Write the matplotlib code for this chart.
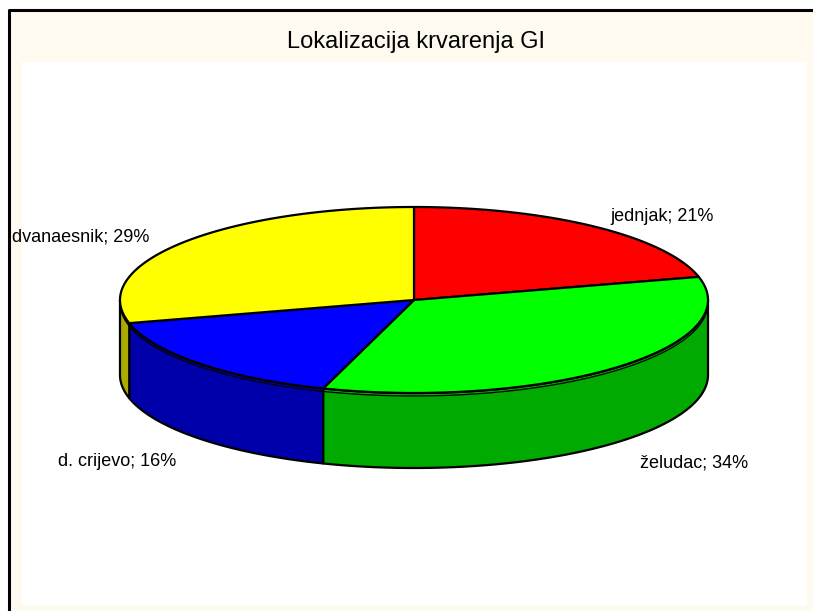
import numpy as np
import matplotlib.pyplot as plt
from matplotlib.patches import Polygon, Rectangle

plt.rcParams["font.family"] = ["Liberation Sans", "DejaVu Sans"]

# data
labels = ["jednjak", "želudac", "d. crijevo", "dvanaesnik"]
values = [21, 34, 16, 29]
top_colors = ["#ff0000", "#00ff00", "#0000ff", "#ffff00"]
side_colors = ["#aa0000", "#00aa00", "#0000aa", "#aaaa00"]

# layout (pixels)
W, H = 813, 611
cx, cy = 414, 300      # centre of the top face
a, b = 294, 93         # radii of the top ellipse
depth = 75             # thickness of the pie
label_xy = [(610, 221), (640, 467), (58, 466), (12, 241)]  # left / baseline

fig = plt.figure(figsize=(W / 100, H / 100), dpi=100)
ax = fig.add_axes([0, 0, 1, 1])
ax.set_xlim(0, W)
ax.set_ylim(H, 0)
ax.axis("off")

# chart frame
ax.add_patch(Rectangle((9, 10), W, H, facecolor="#fffaef", edgecolor="none"))
ax.plot([9, 9, W], [H, 10, 10], color="black", lw=2.2, solid_capstyle="butt")
ax.add_patch(Rectangle((22, 62), 785, 543, facecolor="white", edgecolor="none"))

ax.text(416, 48, "Lokalizacija krvarenja GI", fontsize=17, ha="center", va="baseline")


def ell(t, dy=0):
    t = np.radians(t)
    return cx + a * np.cos(t), cy - b * np.sin(t) + dy


fracs = np.array(values) / np.sum(values)
starts = 90 - 360 * np.concatenate([[0], np.cumsum(fracs)[:-1]])
ends = starts - 360 * fracs

# side walls (front half only: angles between -180 and 0)
for s, e, col in zip(starts, ends, side_colors):
    for k in (-360, 0, 360):
        lo = max(e + k, -180)
        hi = min(s + k, 0)
        if hi <= lo:
            continue
        t = np.linspace(lo, hi, 100)
        xt, yt = ell(t)
        xb, yb = ell(t[::-1], depth)
        pts = np.column_stack([np.concatenate([xt, xb]), np.concatenate([yt, yb])])
        ax.add_patch(Polygon(pts, closed=True, facecolor=col, edgecolor="black",
                             lw=1.6, joinstyle="round"))

# rim line just below the top edge on the front
t = np.linspace(-180, 0, 200)
xr, yr = ell(t, 3)
ax.plot(xr, yr, color="black", lw=0.9)

# top face
for s, e, col in zip(starts, ends, top_colors):
    t = np.linspace(s, e, 150)
    xt, yt = ell(t)
    pts = np.column_stack([np.concatenate([[cx], xt]), np.concatenate([[cy], yt])])
    ax.add_patch(Polygon(pts, closed=True, facecolor=col, edgecolor="black",
                         lw=1.6, joinstyle="round"))

for lab, v, (x, y) in zip(labels, values, label_xy):
    ax.text(x, y, f"{lab}; {v}%", fontsize=13, ha="left", va="baseline")

fig.savefig("out.png", dpi=100)
